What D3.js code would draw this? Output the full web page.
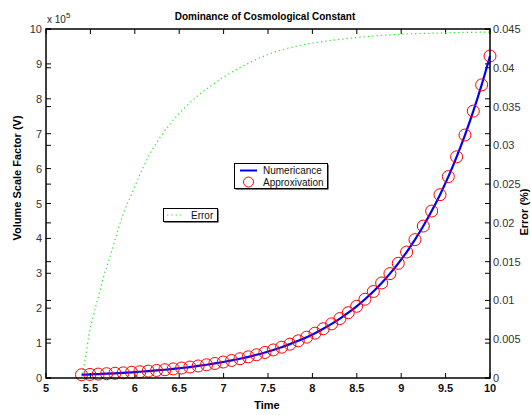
<!DOCTYPE html>
<html>
<head>
<meta charset="utf-8">
<script src="https://cdn.jsdelivr.net/npm/d3@7"></script>
<style>
  body { margin: 0; background: #fff; }
  svg { font-family: "Liberation Sans", Arial, sans-serif; }
</style>
</head>
<body>
<svg id="chart" width="531" height="415"></svg>
<script>
// sample times of the approximation (50 points from 5.4 to 10)
const times = [5.400, 5.494, 5.588, 5.682, 5.776, 5.869, 5.963, 6.057, 6.151, 6.245,
  6.339, 6.433, 6.527, 6.620, 6.714, 6.808, 6.902, 6.996, 7.090, 7.184,
  7.278, 7.371, 7.465, 7.559, 7.653, 7.747, 7.841, 7.935, 8.029, 8.122,
  8.216, 8.310, 8.404, 8.498, 8.592, 8.686, 8.780, 8.873, 8.967, 9.061,
  9.155, 9.249, 9.343, 9.437, 9.531, 9.624, 9.718, 9.812, 9.906, 10.000];

// volume scale factor, in units of 1e5
const numericV = [0.093, 0.102, 0.112, 0.123, 0.135, 0.148, 0.163, 0.179, 0.197, 0.216,
  0.237, 0.261, 0.286, 0.314, 0.345, 0.379, 0.417, 0.458, 0.503, 0.552,
  0.607, 0.666, 0.732, 0.804, 0.883, 0.970, 1.065, 1.170, 1.285, 1.412,
  1.551, 1.703, 1.871, 2.055, 2.257, 2.479, 2.723, 2.991, 3.286, 3.609,
  3.964, 4.354, 4.783, 5.253, 5.770, 6.338, 6.962, 7.647, 8.399, 9.226];

const approxV = [0.093, 0.102, 0.112, 0.123, 0.135, 0.148, 0.163, 0.179, 0.197, 0.216,
  0.237, 0.261, 0.286, 0.314, 0.345, 0.379, 0.417, 0.458, 0.503, 0.552,
  0.607, 0.666, 0.732, 0.804, 0.883, 0.970, 1.065, 1.170, 1.285, 1.412,
  1.551, 1.703, 1.871, 2.055, 2.257, 2.479, 2.723, 2.991, 3.286, 3.609,
  3.964, 4.354, 4.783, 5.253, 5.770, 6.338, 6.962, 7.647, 8.399, 9.226];

// error curve (right axis)
const errTime = [5.40, 5.42, 5.45, 5.48, 5.53, 5.59, 5.65, 5.72, 5.80, 5.87,
  5.96, 6.06, 6.17, 6.29, 6.40, 6.55, 6.70, 6.85, 7.00, 7.15,
  7.30, 7.52, 7.83, 8.13, 8.50, 8.95, 9.48, 10.00];
const errValue = [0, 0.0012, 0.0030, 0.0053, 0.0079, 0.0105, 0.0131, 0.0156, 0.0187, 0.0212,
  0.0236, 0.0263, 0.0289, 0.0311, 0.0328, 0.0347, 0.0363, 0.0376, 0.0388, 0.0398,
  0.0407, 0.0418, 0.0428, 0.0434, 0.0439, 0.0443, 0.0445, 0.0446];

const xTicks = [5, 5.5, 6, 6.5, 7, 7.5, 8, 8.5, 9, 9.5, 10];
const yTicks = [0, 1, 2, 3, 4, 5, 6, 7, 8, 9, 10];
const errTicks = [0, 0.005, 0.01, 0.015, 0.02, 0.025, 0.03, 0.035, 0.04, 0.045];

const svg = d3.select('#chart');
const pLeft = 46, pRight = 490, pTop = 29, pBottom = 378;

const x = d3.scaleLinear().domain([5, 10]).range([pLeft, pRight]);
const y = d3.scaleLinear().domain([0, 10]).range([pBottom, pTop]);
const yErr = d3.scaleLinear().domain([0, 0.045]).range([pBottom, pTop]);

const tickLen = 5;

// ticks drawn inward, matlab style (both y axes mirrored on both sides)
const tickG = svg.append('g').attr('stroke', '#000').attr('stroke-width', 1);
xTicks.forEach(d => {
  tickG.append('line').attr('x1', x(d)).attr('x2', x(d)).attr('y1', pBottom).attr('y2', pBottom - tickLen);
  tickG.append('line').attr('x1', x(d)).attr('x2', x(d)).attr('y1', pTop).attr('y2', pTop + tickLen);
});
yTicks.forEach(d => {
  tickG.append('line').attr('x1', pLeft).attr('x2', pLeft + tickLen).attr('y1', y(d)).attr('y2', y(d));
  tickG.append('line').attr('x1', pRight).attr('x2', pRight - tickLen).attr('y1', y(d)).attr('y2', y(d));
});
errTicks.forEach(d => {
  tickG.append('line').attr('x1', pRight).attr('x2', pRight - tickLen).attr('y1', yErr(d)).attr('y2', yErr(d));
  tickG.append('line').attr('x1', pLeft).attr('x2', pLeft + tickLen).attr('y1', yErr(d)).attr('y2', yErr(d));
});

// tick labels
svg.append('g').selectAll('text').data(xTicks).enter().append('text')
  .attr('x', d => x(d)).attr('y', 392)
  .attr('text-anchor', 'middle')
  .style('font-size', '11px').style('font-weight', 'bold').attr('fill', '#111')
  .text(d => d);

svg.append('g').selectAll('text').data(yTicks).enter().append('text')
  .attr('x', 42).attr('y', d => y(d) + 4)
  .attr('text-anchor', 'end')
  .style('font-size', '11px').attr('fill', '#333')
  .text(d => d);

svg.append('g').selectAll('text').data(errTicks).enter().append('text')
  .attr('x', 493).attr('y', d => yErr(d) + 4)
  .style('font-size', '11px').attr('fill', '#333')
  .text(d => d);

// error curve
svg.append('path')
  .datum(errTime.map((t, i) => [t, errValue[i]]))
  .attr('fill', 'none')
  .attr('stroke', '#2ee82e')
  .attr('stroke-width', 1.2)
  .attr('stroke-dasharray', '1.3,3')
  .attr('d', d3.line().x(d => x(d[0])).y(d => yErr(d[1])).curve(d3.curveMonotoneX));

// numeric solution
svg.append('path')
  .datum(times.map((t, i) => [t, numericV[i]]))
  .attr('fill', 'none')
  .attr('stroke', '#0000ff')
  .attr('stroke-width', 2.2)
  .attr('d', d3.line().x(d => x(d[0])).y(d => y(d[1])).curve(d3.curveMonotoneX));

// approximation markers
svg.append('g').selectAll('circle')
  .data(times.map((t, i) => [t, approxV[i]]))
  .enter().append('circle')
  .attr('cx', d => x(d[0])).attr('cy', d => y(d[1]))
  .attr('r', 6)
  .attr('fill', 'none')
  .attr('stroke', '#ff0000')
  .attr('stroke-width', 1);

// box
svg.append('rect')
  .attr('x', pLeft).attr('y', pTop)
  .attr('width', pRight - pLeft).attr('height', pBottom - pTop)
  .attr('fill', 'none').attr('stroke', '#000').attr('stroke-width', 1.5);

// exponent
const expo = svg.append('text').attr('x', 47).attr('y', 23).style('font-size', '10px').attr('fill', '#222');
expo.append('tspan').text('x 10');
expo.append('tspan').attr('dy', -5).style('font-size', '8px').text('5');

// title and axis labels
svg.append('text')
  .attr('x', 265).attr('y', 20)
  .attr('text-anchor', 'middle')
  .style('font-size', '10px').style('font-weight', 'bold')
  .text('Dominance of Cosmological Constant');

svg.append('text')
  .attr('x', 267).attr('y', 409)
  .attr('text-anchor', 'middle')
  .style('font-size', '11px').style('font-weight', 'bold')
  .text('Time');

svg.append('text')
  .attr('transform', 'translate(21,' + 178 + ') rotate(-90)')
  .attr('text-anchor', 'middle')
  .style('font-size', '11px').style('font-weight', 'bold')
  .text('Volume Scale Factor (V)');

svg.append('text')
  .attr('transform', 'translate(528,' + 212 + ') rotate(-90)')
  .attr('text-anchor', 'middle')
  .style('font-size', '11px').style('font-weight', 'bold')
  .text('Error (%)');

// legends
function legendBox(x0, y0, w, h) {
  svg.append('rect').attr('x', x0 + 1).attr('y', y0 + 1).attr('width', w).attr('height', h)
    .attr('fill', '#000');
  svg.append('rect').attr('x', x0).attr('y', y0).attr('width', w).attr('height', h)
    .attr('fill', '#fff').attr('stroke', '#000').attr('stroke-width', 1);
}

legendBox(234.5, 163.5, 93, 25);
svg.append('line').attr('x1', 240).attr('x2', 257).attr('y1', 170.5).attr('y2', 170.5)
  .attr('stroke', '#0000ff').attr('stroke-width', 2);
svg.append('circle').attr('cx', 248.5).attr('cy', 182).attr('r', 5)
  .attr('fill', 'none').attr('stroke', '#ff0000');
svg.append('text').attr('x', 263).attr('y', 174).style('font-size', '10px').attr('fill', '#111').text('Numericance');
svg.append('text').attr('x', 263).attr('y', 186).style('font-size', '10px').attr('fill', '#111').text('Approxivation');

legendBox(163.5, 208.5, 54, 13);
svg.append('line').attr('x1', 167).attr('x2', 184).attr('y1', 215).attr('y2', 215)
  .attr('stroke', '#2ee82e').attr('stroke-width', 1.2).attr('stroke-dasharray', '1.3,3');
svg.append('text').attr('x', 191).attr('y', 219).style('font-size', '10px').attr('fill', '#111').text('Error');
</script>
</body>
</html>
